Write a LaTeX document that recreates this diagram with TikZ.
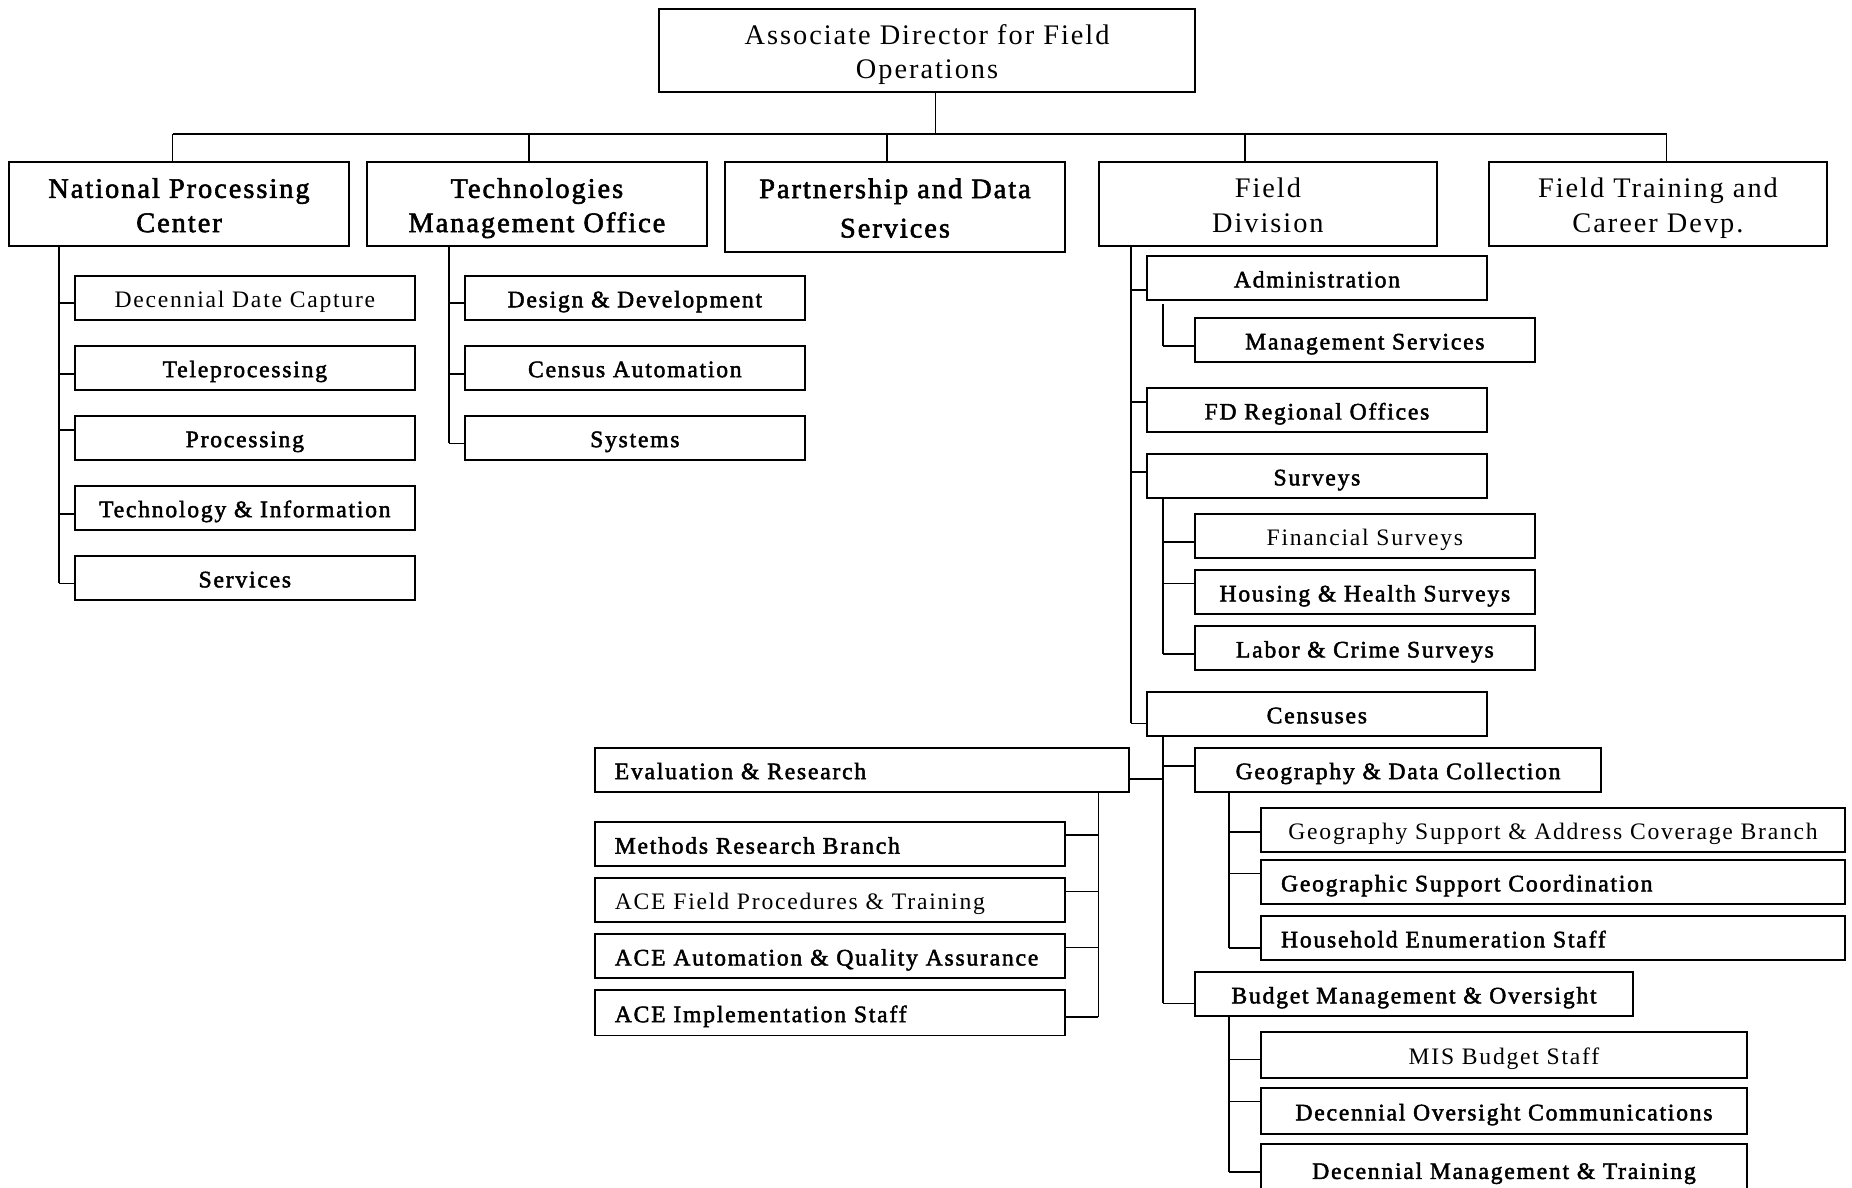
\documentclass[tikz,border=0pt]{standalone}
\usepackage{fontspec}
\setmainfont{Liberation Serif}[LetterSpace=7]
\newfontfamily\heavyfont{Liberation Serif}[LetterSpace=7,FakeBold=2]
\newfontfamily\unitfont{Liberation Serif}[LetterSpace=7.5]
\newfontfamily\unitheavyfont{Liberation Serif}[LetterSpace=7.5,FakeBold=2]

% even first-line height and last-line depth for two-line labels
\newcommand\orgtopstrut[1][24.5pt]{\rule{0pt}{#1}}
\newcommand\orgbotstrut{\rule[-6pt]{0pt}{0pt}}

\tikzset{
  box/.style={draw, line width=1.45pt, inner sep=0pt, align=center},
  oneline/.style={text height=16pt, text depth=0pt},
  headst/.style={box, font={\fontsize{24}{29}\selectfont}},
  divheavy/.style={box, font={\heavyfont\fontsize{24}{29}\selectfont}},
  divlight/.style={box, font={\fontsize{24}{29}\selectfont}},
  divwide/.style={box, font={\heavyfont\fontsize{24}{33.3}\selectfont}},
  unit/.style={box, oneline, font={\unitheavyfont\fontsize{20}{24}\selectfont}},
  unitlight/.style={box, oneline, font={\unitfont\fontsize{20}{24}\selectfont}},
  conn/.style={line width=1.4pt},
  busline/.style={line width=1.1pt},
}

% box from corner (x1,y1) to corner (x2,y2), text centred
\newcommand\orgbox[7]{%
  \node[#6, minimum width={#4-#2}, minimum height={#5-#3}] (#1)
    at ({(#2+#4)/2},{(#3+#5)/2}) {#7};}
% box from corner (x1,y1) to corner (x2,y2), text set flush left
\newcommand\orglbox[7]{%
  \pgfmathsetmacro\orgtw{#4-#2-34}%
  \node[#6, align=left, text width=\orgtw pt, minimum width={#4-#2}, minimum height={#5-#3}] (#1)
    at ({(#2+#4)/2},{(#3+#5)/2}) {#7};}
% branch from a spine into the left side of a box (offset: up is positive)
\newcommand\ltick[3]{%
  \coordinate (#1-t) at ([yshift=#3pt]#1.west);
  \draw[conn] (#1-t) -- (#1-t -| #2);}
% branch from a spine into the right side of a box
\newcommand\rtick[3]{%
  \coordinate (#1-t) at ([yshift=#3pt]#1.east);
  \draw[conn] (#1-t) -- (#1-t -| #2);}

\begin{document}
\begin{tikzpicture}[x=1pt, y=-1pt]
\useasboundingbox (0,0) rectangle (1568,1005);
\fill[white] (0,0) rectangle (1568,1005);
\clip (0,0) rectangle (1568,1005);

% ---------- head and divisions ----------
\orgbox{top}{558}{7.5}{1011.8}{77.6}{headst}{\orgtopstrut[25.5pt]Associate Director for Field\\Operations\orgbotstrut}
\orgbox{npc}{7.6}{137.2}{295.5}{208.3}{divheavy}{\orgtopstrut National Processing\\Center\orgbotstrut}
\orgbox{tmo}{310.5}{137.2}{598.6}{208.3}{divheavy}{\orgtopstrut Technologies\\Management Office\orgbotstrut}
\orgbox{pds}{613.8}{137.2}{901.7}{213.1}{divwide}{\orgtopstrut Partnership and Data\\Services\orgbotstrut}
\orgbox{fd}{930.5}{137.2}{1216.4}{208.2}{divlight}{\orgtopstrut Field\\Division\orgbotstrut}
\orgbox{ftc}{1260.4}{137.2}{1547}{208.3}{divlight}{\orgtopstrut Field Training and\\Career Devp.\orgbotstrut}

\coordinate (busC) at (792,113.5);
\coordinate (bus1) at (146.2,113.5);
\coordinate (bus2) at (447.9,113.5);
\coordinate (bus3) at (751,113.5);
\coordinate (bus4) at (1054.1,113.5);
\coordinate (bus5) at (1411,113.5);
\draw[busline] (top.south -| busC) -- (busC);
\draw[busline] (bus1) -- (bus5);
\foreach \b/\d in {bus1/npc, bus2/tmo, bus3/pds, bus4/fd, bus5/ftc}
  \draw[busline] (\b) -- (\b |- \d.north);

% ---------- National Processing Center ----------
\orgbox{ddc}{63.2}{233.4}{351.4}{270.9}{unitlight}{Decennial Date Capture}
\orgbox{tel}{63.2}{292.7}{351.4}{329.9}{unit}{Teleprocessing}
\orgbox{pro}{63.2}{351.9}{351.4}{389.2}{unit}{Processing}
\orgbox{tni}{63.2}{411.2}{351.4}{448.5}{unit}{Technology \& Information}
\orgbox{svc}{63.2}{470.5}{351.4}{508}{unit}{Services}
\coordinate (npcX) at (50,0);
\ltick{ddc}{npcX}{-4.65}
\ltick{tel}{npcX}{-5.4}
\ltick{pro}{npcX}{6.45}
\ltick{tni}{npcX}{-5.35}
\ltick{svc}{npcX}{-4.65}
\draw[conn] (npc.south -| npcX) -- (svc-t -| npcX);

% ---------- Technologies Management Office ----------
\orgbox{dnd}{393.4}{233.4}{681.6}{270.9}{unit}{Design \& Development}
\orgbox{cau}{393.4}{292.7}{681.6}{329.9}{unit}{Census Automation}
\orgbox{sys}{393.4}{351.9}{681.6}{389.2}{unit}{Systems}
\coordinate (tmoX) at (380.2,0);
\ltick{dnd}{tmoX}{-4.65}
\ltick{cau}{tmoX}{-5.4}
\ltick{sys}{tmoX}{-4.85}
\draw[conn] (tmo.south -| tmoX) -- (sys-t -| tmoX);

% ---------- Field Division ----------
\orgbox{adm}{970.8}{216.7}{1259.2}{254.0}{unit}{Administration}
\orgbox{mgs}{1011.5}{269.2}{1299.6}{306.5}{unit}{Management Services}
\orgbox{fdr}{970.8}{328.5}{1259.2}{365.8}{unit}{FD Regional Offices}
\orgbox{sur}{970.8}{384.4}{1259.2}{421.4}{unit}{Surveys}
\orgbox{fin}{1011.5}{435.2}{1299.6}{472.4}{unitlight}{Financial Surveys}
\orgbox{hhs}{1011.5}{482.6}{1299.6}{519.8}{unit}{Housing \& Health Surveys}
\orgbox{lcs}{1011.5}{530.0}{1299.6}{567.3}{unit}{Labor \& Crime Surveys}
\orgbox{cen}{970.8}{585.8}{1259.0}{622.9}{unit}{Censuses}
\coordinate (fdX) at (957.7,0);
\coordinate (subX) at (984.4,0);
\ltick{adm}{fdX}{-10.15}
\ltick{fdr}{fdX}{6.75}
\ltick{sur}{fdX}{3.3}
\ltick{cen}{fdX}{-8.05}
\draw[conn] (fd.south -| fdX) -- (cen-t -| fdX);
\ltick{mgs}{subX}{-5.05}
\coordinate (admB) at ([yshift=-2.8pt]adm.south);
\draw[conn] (admB -| subX) -- (mgs-t -| subX);
\ltick{fin}{subX}{-5.1}
\ltick{hhs}{subX}{7.3}
\ltick{lcs}{subX}{-5.05}
\draw[conn] (sur.south -| subX) -- (lcs-t -| subX);

% ---------- Censuses ----------
\orglbox{eva}{503.5}{633}{955.9}{670.3}{unit}{Evaluation \& Research}
\orgbox{gdc}{1011.8}{633}{1355.5}{670.3}{unit}{Geography \& Data Collection}
\orgbox{gsa}{1067.6}{683.8}{1562.1}{721.4}{unitlight}{Geography Support \& Address Coverage Branch}
\orglbox{gsc}{1067.6}{728.2}{1562.1}{765.1}{unit}{Geographic Support Coordination}
\orglbox{hes}{1067.6}{775.6}{1562.1}{812.5}{unit}{Household Enumeration Staff}
\orgbox{bmo}{1011.8}{823}{1382.6}{860}{unit}{Budget Management \& Oversight}
\orgbox{mis}{1067.6}{873.5}{1479.1}{912.4}{unitlight}{MIS Budget Staff}
\orgbox{doc}{1067.6}{920.9}{1479.1}{960.1}{unit}{Decennial Oversight Communications}
\orgbox{dmt}{1067.6}{968.3}{1479.1}{1012}{unit}{Decennial Management \& Training}
\coordinate (gdcX) at (1040.3,0);
\rtick{eva}{subX}{-8.15}
\ltick{gdc}{subX}{3.15}
\ltick{bmo}{subX}{-8}
\draw[conn] (cen.south -| subX) -- (bmo-t -| subX);
\ltick{gsa}{gdcX}{-1.6}
\ltick{gsc}{gdcX}{7.25}
\ltick{hes}{gdcX}{-8.35}
\draw[conn] (gdc.south -| gdcX) -- (hes-t -| gdcX);
\ltick{mis}{gdcX}{-3.95}
\ltick{doc}{gdcX}{7.8}
\ltick{dmt}{gdcX}{-1.85}
\draw[conn] (bmo.south -| gdcX) -- (dmt-t -| gdcX);

% ---------- Evaluation & Research ----------
\orglbox{mrb}{503.5}{696.2}{901.7}{733.2}{unit}{Methods Research Branch}
\orglbox{afp}{503.5}{743.4}{901.7}{780.6}{unitlight}{ACE Field Procedures \& Training}
\orglbox{aaq}{503.5}{790.8}{901.7}{828}{unit}{ACE Automation \& Quality Assurance}
\orglbox{ais}{503.5}{838.2}{901.7}{876.6}{unit}{ACE Implementation Staff}
\coordinate (evaX) at (929.9,0);
\rtick{mrb}{evaX}{7.5}
\rtick{afp}{evaX}{7.3}
\rtick{aaq}{evaX}{7.3}
\rtick{ais}{evaX}{-3.4}
\draw[conn] (eva.south -| evaX) -- (ais-t -| evaX);
\end{tikzpicture}
\end{document}
